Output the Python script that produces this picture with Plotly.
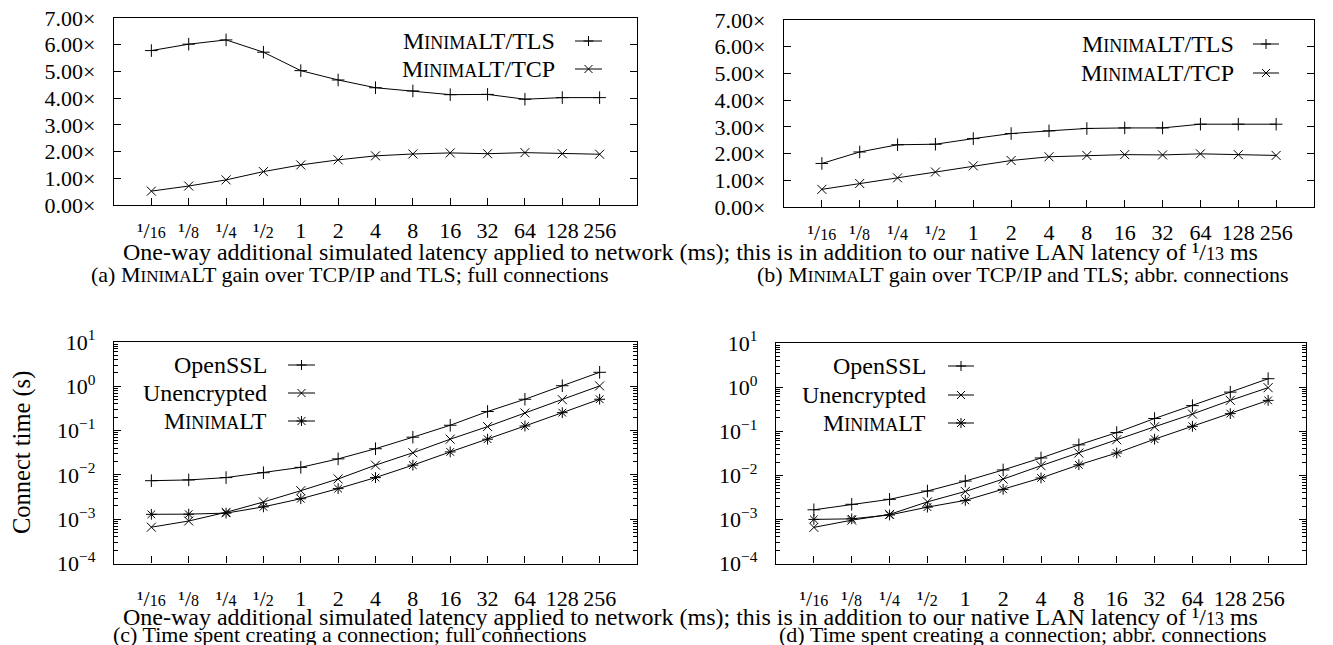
import plotly.graph_objects as go

# ---------------- data ----------------
latency = ["1/16", "1/8", "1/4", "1/2", "1", "2", "4", "8", "16", "32", "64", "128", "256"]

tls_full = [5.78, 6.02, 6.18, 5.72, 5.03, 4.68, 4.39, 4.27, 4.13, 4.14, 3.96, 4.02, 4.02]
tcp_full = [0.52, 0.71, 0.94, 1.25, 1.50, 1.69, 1.84, 1.91, 1.95, 1.92, 1.96, 1.92, 1.90]
tls_abbr = [1.63, 2.06, 2.33, 2.35, 2.56, 2.75, 2.85, 2.94, 2.96, 2.96, 3.10, 3.10, 3.10]
tcp_abbr = [0.66, 0.88, 1.09, 1.31, 1.54, 1.74, 1.88, 1.93, 1.96, 1.95, 1.99, 1.96, 1.93]

openssl_full = [0.0074, 0.0077, 0.0087, 0.0112, 0.0148, 0.023, 0.039, 0.071, 0.132, 0.27, 0.51, 1.03, 2.07]
unenc_full = [0.00066, 0.00091, 0.00143, 0.00245, 0.0044, 0.0081, 0.0166, 0.0316, 0.064, 0.123, 0.25, 0.50, 1.02]
minimalt_full = [0.00129, 0.00130, 0.00137, 0.0019, 0.0029, 0.0049, 0.0087, 0.0166, 0.033, 0.064, 0.127, 0.254, 0.51]

openssl_abbr = [0.00165, 0.0022, 0.00285, 0.0044, 0.0074, 0.0132, 0.0247, 0.049, 0.093, 0.194, 0.38, 0.77, 1.55]
unenc_abbr = [0.00066, 0.00096, 0.0013, 0.0025, 0.0043, 0.0082, 0.0165, 0.032, 0.064, 0.126, 0.245, 0.50, 0.97]
minimalt_abbr = [0.00100, 0.00103, 0.00126, 0.0019, 0.0027, 0.0048, 0.0087, 0.0173, 0.032, 0.066, 0.129, 0.25, 0.50]

gain_ticks = [0, 1, 2, 3, 4, 5, 6, 7]
log_ticks = [1e-4, 1e-3, 1e-2, 1e-1, 1e0, 1e1]
log_exponents = ["\u22124", "\u22123", "\u22122", "\u22121", "0", "1"]

# ---------------- style ----------------
W, H = 1333, 645
FONT = "'Liberation Serif', 'Times New Roman', 'DejaVu Serif', serif"
TICK_FS = 22
LEG_FS = 24
TITLE_FS = 24
CAP_FS = 22


def px(x):
    return x / W


def py(y):
    return 1 - y / H


def mlt(size):
    small = round(size * 0.76)
    return f"M<span style='font-size:{small}px'>INIMA</span>LT"


def frac(s, size):
    if "/" in s:
        a, b = s.split("/")
        sup = a.replace("1", "\u00b9")
        return f"{sup}/<span style='font-size:{round(size * 0.74)}px'>{b}</span>"
    return s


tick_text = [frac(s, TICK_FS) for s in latency]
gain_text = [f"{v:.2f}\u00d7" for v in gain_ticks]
log_tick_text = [f"10<sup>{e}</sup>" for e in log_exponents]

fig = go.Figure()

line = dict(color="black", width=1)


def add(yvals, sym, xa, ya, size=9):
    fig.add_trace(go.Scatter(
        x=latency, y=yvals, mode="lines+markers", xaxis=xa, yaxis=ya,
        line=line, showlegend=False,
        marker=dict(symbol=sym, size=size, color="black",
                    line=dict(color="black", width=1)),
    ))


add(tls_full, "cross-thin", "x", "y")
add(tcp_full, "x-thin", "x", "y")
add(tls_abbr, "cross-thin", "x2", "y2")
add(tcp_abbr, "x-thin", "x2", "y2")
add(openssl_full, "cross-thin", "x3", "y3")
add(unenc_full, "x-thin", "x3", "y3")
add(minimalt_full, "asterisk", "x3", "y3")
add(openssl_abbr, "cross-thin", "x4", "y4")
add(unenc_abbr, "x-thin", "x4", "y4")
add(minimalt_abbr, "asterisk", "x4", "y4")

# domains (pixel boxes of the frames)
boxes = {
    1: (114, 637, 18, 205),
    2: (784, 1314, 20, 207),
    3: (114, 637, 342, 563.5),
    4: (776, 1306, 343, 563.5),
}

tickfont = dict(family=FONT, size=TICK_FS, color="black")

for i, (x0, x1, y0, y1) in boxes.items():
    sx = "" if i == 1 else str(i)
    anchor_y = "y" + sx
    anchor_x = "x" + sx
    xa = dict(
        domain=[px(x0), px(x1)], anchor=anchor_y, automargin=False,
        type="category", categoryorder="array", categoryarray=latency,
        range=[-1, 13], tickmode="array", tickvals=latency, ticktext=tick_text,
        showline=True, linecolor="black", linewidth=1.3, mirror=True,
        ticks="inside", ticklen=7, tickwidth=1, tickcolor="black",
        showgrid=False, zeroline=False, tickfont=tickfont,
        ticklabelstandoff=5 if i <= 2 else 15,
    )
    if i <= 2:
        ya = dict(
            domain=[py(y1), py(y0)], anchor=anchor_x, automargin=False,
            range=[0, 7], tickmode="array", tickvals=gain_ticks, ticktext=gain_text,
            showline=True, linecolor="black", linewidth=1.3, mirror="ticks",
            ticks="inside", ticklen=7, tickwidth=1, tickcolor="black",
            showgrid=False, zeroline=False, tickfont=tickfont,
            ticklabelstandoff=13,
        )
    else:
        minor_vals = [m * 10 ** e for e in range(-4, 1) for m in range(2, 10)]
        ya = dict(
            domain=[py(y1), py(y0)], anchor=anchor_x, automargin=False,
            type="log", range=[-4, 1], tickmode="array", tickvals=log_ticks,
            ticktext=log_tick_text,
            showline=True, linecolor="black", linewidth=1.3, mirror="ticks",
            ticks="inside", ticklen=7, tickwidth=1, tickcolor="black",
            minor=dict(ticks="inside", ticklen=4, tickvals=minor_vals,
                       tickcolor="black", tickwidth=1, showgrid=False),
            showgrid=False, zeroline=False, tickfont=tickfont,
            ticklabelstandoff=13,
        )
    fig.layout["xaxis" + sx] = xa
    fig.layout["yaxis" + sx] = ya

annotations = []
shapes = []


def text(x, y, s, size, xanchor="left", angle=0):
    annotations.append(dict(
        x=px(x), y=py(y), xref="paper", yref="paper", text=s, showarrow=False,
        xanchor=xanchor, yanchor="middle", textangle=angle,
        font=dict(family=FONT, size=size, color="black"),
    ))


PATHS = {
    "plus": "M-5,0 L5,0 M0,-5 L0,5",
    "x": "M-4,-4 L4,4 M-4,4 L4,-4",
    "star": "M-5,0 L5,0 M0,-5 L0,5 M-4,-4 L4,4 M-4,4 L4,-4",
}


def legend_item(xr, y, label, lx0, lx1, kind):
    text(xr, y, label, LEG_FS, xanchor="right")
    shapes.append(dict(type="line", xref="paper", yref="paper",
                       x0=px(lx0), x1=px(lx1), y0=py(y), y1=py(y),
                       line=dict(color="black", width=1)))
    shapes.append(dict(type="path", xref="paper", yref="paper",
                       xsizemode="pixel", ysizemode="pixel",
                       xanchor=px((lx0 + lx1) / 2), yanchor=py(y),
                       path=PATHS[kind], line=dict(color="black", width=1)))


# legends
M_LEG = mlt(LEG_FS)
legend_item(557, 41, M_LEG + "/TLS", 575, 602, "plus")
legend_item(557, 69, M_LEG + "/TCP", 575, 602, "x")
legend_item(1236, 44, M_LEG + "/TLS", 1253, 1279, "plus")
legend_item(1236, 73, M_LEG + "/TCP", 1253, 1279, "x")
legend_item(269, 365, "OpenSSL", 288, 315, "plus")
legend_item(269, 393, "Unencrypted", 288, 315, "x")
legend_item(269, 421, M_LEG, 288, 315, "star")
legend_item(928, 366, "OpenSSL", 948, 974, "plus")
legend_item(928, 395, "Unencrypted", 948, 974, "x")
legend_item(928, 423, M_LEG, 948, 974, "star")

xtitle = ("One-way additional simulated latency applied to network (ms); this is in addition "
          "to our native LAN latency of " + frac("1/13", TITLE_FS) + " ms")
text(121, 252, xtitle, TITLE_FS)
text(121, 617, xtitle, TITLE_FS)

M_CAP = mlt(CAP_FS)
text(349, 274, "(a) " + M_CAP + " gain over TCP/IP and TLS; full connections", CAP_FS, xanchor="center")
text(1023, 274, "(b) " + M_CAP + " gain over TCP/IP and TLS; abbr. connections", CAP_FS, xanchor="center")
text(349, 634, "(c) Time spent creating a connection; full connections", CAP_FS, xanchor="center")
text(1023, 634, "(d) Time spent creating a connection; abbr. connections", CAP_FS, xanchor="center")

text(22, 453, "Connect time (s)", 24.5, xanchor="center", angle=-90)

fig.update_layout(
    template="none",
    width=W, height=H, margin=dict(l=0, r=0, t=0, b=0, autoexpand=False),
    paper_bgcolor="white", plot_bgcolor="white",
    font=dict(family=FONT, size=TICK_FS, color="black"),
    annotations=annotations, shapes=shapes, showlegend=False,
)

fig.write_html(
    "out.html",
    config={"displayModeBar": False},
    post_script="document.body.style.margin='0';document.body.style.overflow='hidden';",
)
